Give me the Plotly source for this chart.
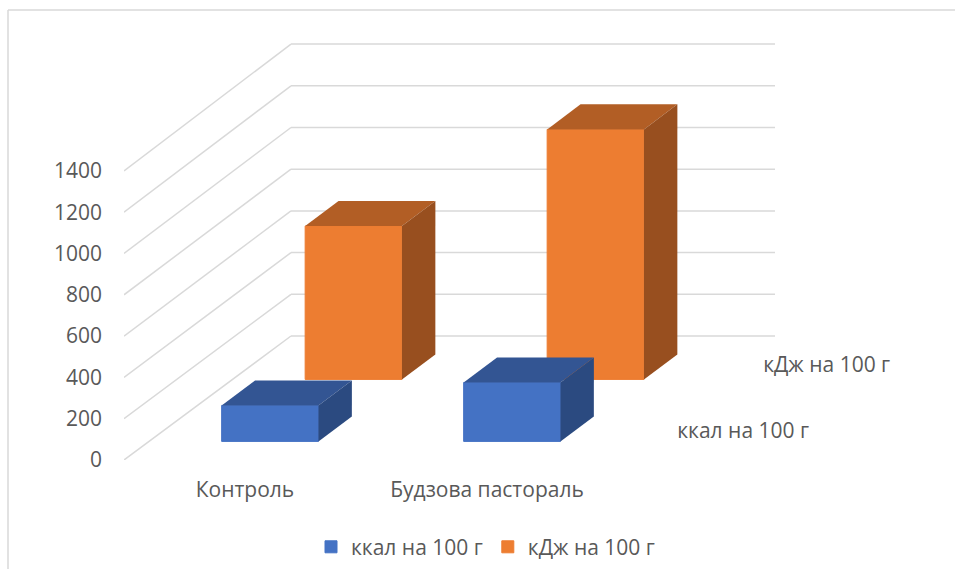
import plotly.graph_objects as go

categories = ["Контроль", "Будзова пастораль"]
series_names = ["ккал на 100 г", "кДж на 100 г"]
kcal_values = [174, 285]
kj_values = [738, 1203]
y_ticks = [0, 200, 400, 600, 800, 1000, 1200, 1400]

FRONT = ["#4472C4", "#ED7D31"]
TOP = ["#335593", "#B25E25"]
SIDE = ["#2B4A80", "#984F1F"]
GRID = "#D9D9D9"
TEXT = "#595959"
FONT = "Open Sans"
FONT_SIZE = 21

# Oblique projection of (category position, depth, value) onto the flat axes.
DEPTH_X = 167 / 242
DEPTH_Y = 600.5
PERSPECTIVE = 0.0097
SERIES_DEPTH = [0.15, 0.65]
BAR_DEPTH = 0.2
BAR_WIDTH = 0.4
LABEL_RAISE = [42, 62]


def px(u, d):
    return u + d * DEPTH_X


def py(v, d):
    return v * (1 + PERSPECTIVE * d) + d * DEPTH_Y


fig = go.Figure()
shapes = []

# Left wall and back wall gridlines.
for v in y_ticks:
    shapes.append(dict(type="line", xref="x", yref="y", layer="below",
                       x0=px(0, 0), y0=py(v, 0), x1=px(0, 1), y1=py(v, 1),
                       line=dict(color=GRID, width=1.5)))
    shapes.append(dict(type="line", xref="x", yref="y", layer="below",
                       x0=px(0, 1), y0=py(v, 1), x1=px(2, 1), y1=py(v, 1),
                       line=dict(color=GRID, width=1.5)))

# Chart frame: left and top edges only.
shapes.append(dict(type="line", xref="paper", yref="paper", layer="below",
                   x0=-116 / 831, y0=(579 - 119 - 569) / 460, x1=-116 / 831, y1=(579 - 119 - 10) / 460,
                   line=dict(color=GRID, width=1.5)))
shapes.append(dict(type="line", xref="paper", yref="paper", layer="below",
                   x0=-116 / 831, y0=(579 - 119 - 10) / 460, x1=1, y1=(579 - 119 - 10) / 460,
                   line=dict(color=GRID, width=1.5)))

# Front faces are real bars; the back series comes first.
for s, values in reversed(list(enumerate([kcal_values, kj_values]))):
    d = SERIES_DEPTH[s]
    fig.add_trace(go.Bar(
        name=series_names[s],
        x=[px(i + 0.5, d) for i in range(len(categories))],
        y=[py(v, d) - py(0, d) for v in values],
        base=[py(0, d)] * len(values),
        width=BAR_WIDTH,
        marker=dict(color=FRONT[s], line=dict(width=1, color=FRONT[s])),
        legendrank=s + 1,
    ))

# Top and side faces of each block, back series first.
for s, values in reversed(list(enumerate([kcal_values, kj_values]))):
    d0 = SERIES_DEPTH[s]
    d1 = d0 + BAR_DEPTH
    for i, v in enumerate(values):
        left = i + 0.5 - BAR_WIDTH / 2
        right = i + 0.5 + BAR_WIDTH / 2
        fig.add_trace(go.Scatter(
            x=[px(left, d0), px(right, d0), px(right, d1), px(left, d1), px(left, d0)],
            y=[py(v, d0), py(v, d0), py(v, d1), py(v, d1), py(v, d0)],
            mode="lines", fill="toself", fillcolor=TOP[s],
            line=dict(width=0), showlegend=False, hoverinfo="skip",
        ))
        fig.add_trace(go.Scatter(
            x=[px(right, d0), px(right, d1), px(right, d1), px(right, d0), px(right, d0)],
            y=[py(v, d0), py(v, d1), py(0, d1), py(0, d0), py(v, d0)],
            mode="lines", fill="toself", fillcolor=SIDE[s],
            line=dict(width=0), showlegend=False, hoverinfo="skip",
        ))

# Series names along the depth axis.
fig.add_trace(go.Scatter(
    x=[px(2.455, d) for d in SERIES_DEPTH],
    y=[py(r, d) for r, d in zip(LABEL_RAISE, SERIES_DEPTH)],
    mode="text", text=series_names,
    textfont=dict(family=FONT, size=FONT_SIZE, color=TEXT),
    showlegend=False, hoverinfo="skip", cliponaxis=False,
))

fig.update_layout(
    width=955, height=579,
    margin=dict(l=124, r=0, t=0, b=119, autoexpand=False),
    paper_bgcolor="white", plot_bgcolor="white",
    barmode="overlay",
    shapes=shapes,
    font=dict(family=FONT, size=FONT_SIZE, color=TEXT),
    legend=dict(orientation="h", xref="container", yref="container",
                x=0.5 + 8 / 955, xanchor="center", y=0.055, yanchor="middle",
                font=dict(family=FONT, size=FONT_SIZE, color=TEXT),
                traceorder="normal", itemwidth=30),
    xaxis=dict(range=[0, 831 / 242], tickmode="array", tickvals=[0.5, 1.5],
               ticktext=categories, showgrid=False, zeroline=False,
               showline=False, ticks="", ticklabelstandoff=15, fixedrange=True),
    yaxis=dict(range=[0, 460 / 0.2065], tickmode="array", tickvals=y_ticks,
               showgrid=False, zeroline=False, showline=False, ticks="",
               ticklabelstandoff=21, fixedrange=True),
)

fig.write_html("out.html")
